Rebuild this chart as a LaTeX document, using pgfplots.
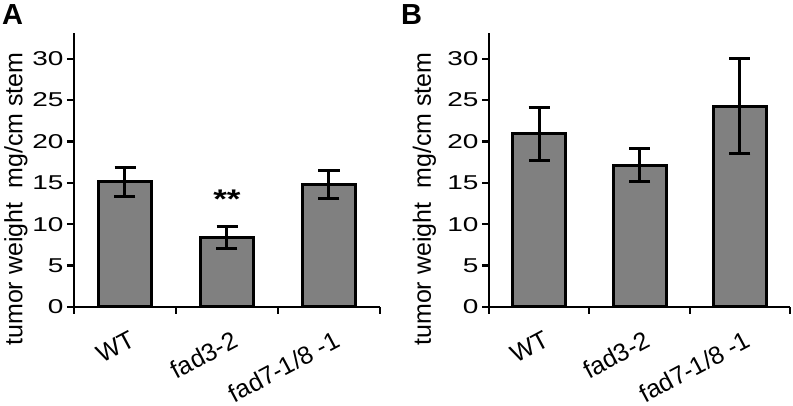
\documentclass[border=0pt]{standalone}
\usepackage{fontspec}
\setmainfont{Liberation Sans}
\usepackage{graphicx}
\usepackage{pgfplots}
\usepackage{pgfplotstable}
\pgfplotsset{compat=1.18}
\definecolor{barg}{HTML}{808080}

\pgfplotstableread{
x y e
1 15.1 1.70
2 8.4 1.35
3 14.8 1.65
}\dataA
\pgfplotstableread{
x y e
1 20.95 3.2
2 17.15 2.05
3 24.25 5.75
}\dataB

\pgfplotsset{
  myaxis/.style={
    scale only axis, height=274pt,
    ymin=0, ymax=33.1, xmin=0.5, xmax=3.5,
    axis x line*=bottom, axis y line*=left,
    axis line style={line width=2.3pt, -},
    ytick={0,5,...,30},
    xtick={1,2,3}, xticklabels={WT,fad3-2,fad7-1/8 -1},
    minor xtick={0.5,1.5,2.5,3.5},
    tick align=outside, major tick length=7pt, minor tick length=7pt,
    tick style={line width=2.3pt, black},
    major x tick style={draw=none},
    /pgf/number format/assume math mode=true,
    yticklabel={\scalebox{1.4}[1]{\pgfmathprintnumber{\tick}}},
    yticklabel style={font=\fontsize{20}{20}\selectfont},
    xticklabel style={font=\fontsize{25}{25}\selectfont, rotate=28, anchor=north east, inner sep=0pt, yshift=-16pt, xshift=-4pt},
    ylabel={tumor weight\ \ mg/cm stem},
    ylabel style={font=\fontsize{25}{25}\selectfont, anchor=center},
    clip=false,
  },
  mybars/.style={
    ybar, bar width=53pt, fill=barg, draw=black, line width=3pt,
    error bars/.cd, y dir=both, y explicit,
    error bar style={line width=3pt, black},
    error mark options={rotate=90, mark size=10.5pt, line width=3pt, black},
  },
}

\begin{document}
\begin{tikzpicture}
\useasboundingbox (0,0) rectangle (793pt,406pt);
\begin{axis}[myaxis, width=306pt, at={(74pt,99pt)}, anchor=south west,
  ylabel style={at={(axis description cs:-0.19,0.394)}}]
\addplot[mybars] table[x=x, y=y, y error=e]{\dataA};
\node[font=\bfseries\fontsize{27}{27}\selectfont, inner sep=0pt] at (axis cs:2,13.0) {\scalebox{1.3}[1]{**}};
\end{axis}
\begin{axis}[myaxis, width=301pt, at={(489pt,99pt)}, anchor=south west,
  ylabel style={at={(axis description cs:-0.215,0.394)}}]
\addplot[mybars] table[x=x, y=y, y error=e]{\dataB};
\end{axis}
\node[anchor=base west, inner sep=0pt, font=\bfseries\fontsize{29}{29}\selectfont] at (2pt,381pt) {A};
\node[anchor=base west, inner sep=0pt, font=\bfseries\fontsize{29}{29}\selectfont] at (401pt,381pt) {B};
\end{tikzpicture}
\end{document}
